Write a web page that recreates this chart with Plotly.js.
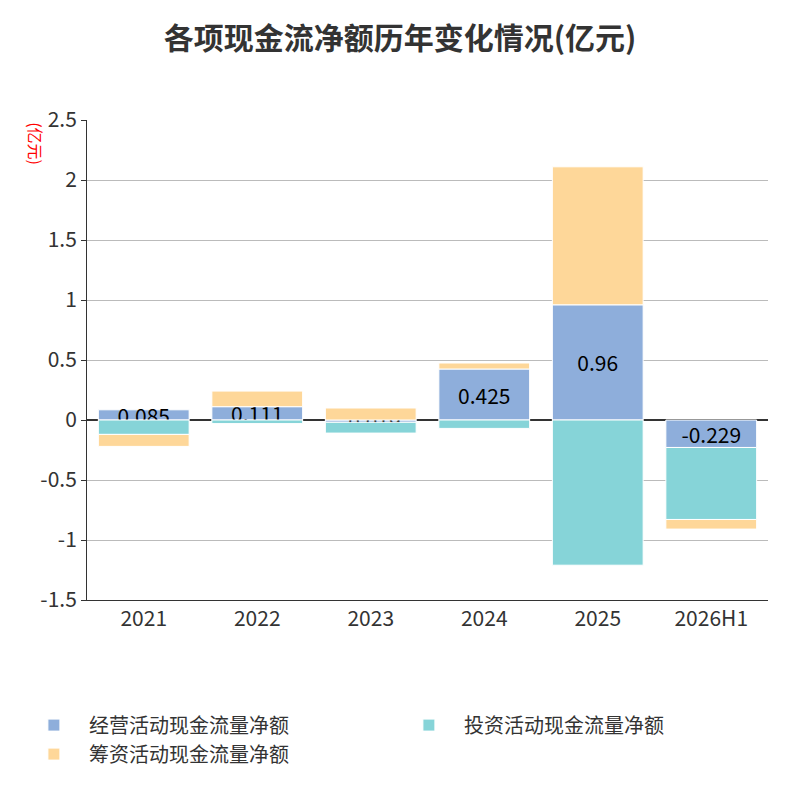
<html><head><meta charset="utf-8"><script src="https://cdn.plot.ly/plotly-3.0.1.min.js"></script></head><body style="margin:0"><div id="c" style="width:800px;height:800px"></div><script>
const categories=['2021','2022','2023','2024','2025','2026H1'];
const operating=[0.085,0.111,-0.019,0.425,0.96,-0.229];
const investing=[-0.12,-0.03,-0.09,-0.07,-1.21,-0.60];
const financing=[-0.10,0.13,0.10,0.05,1.15,-0.08];
const yTicks=[-1.5,-1,-0.5,0,0.5,1,1.5,2,2.5];
const font='"Noto Sans CJK SC", sans-serif';
const tr=(name,y,color,text)=>({type:'bar',name,x:categories,y,marker:{color,line:{color:'#fff',width:1}},width:0.8,
 text:text?y.map(String):undefined,textposition:'inside',insidetextanchor:'middle',textfont:{size:21,color:'#000'},hoverinfo:'y',cliponaxis:false,constraintext:'none'});
Plotly.newPlot('c',[tr('经营活动现金流量净额',operating,'#8eaedb',true),tr('投资活动现金流量净额',investing,'#86d4d8'),tr('筹资活动现金流量净额',financing,'#fed799')],{
 width:800,height:800,barmode:'relative',font:{family:font,color:'#333'},
 title:{text:'<b>各项现金流净额历年变化情况(亿元)</b>',x:0.5,y:0.965,font:{size:30,color:'#333'}},
 margin:{l:87,r:32,t:120,b:200},plot_bgcolor:'#fff',
 xaxis:{type:'category',tickfont:{size:21},showline:true,linecolor:'#333',ticks:'outside',ticklen:0,anchor:'y'},
 yaxis:{range:[-1.5,2.5],tickvals:yTicks,ticktext:yTicks.map(String),tickfont:{size:21},gridcolor:'#bbb',showline:true,linecolor:'#333',ticks:'outside',tickcolor:'#333',zeroline:true,zerolinecolor:'#333',zerolinewidth:2},
 legend:{orientation:'h',x:-0.1,y:-0.22,font:{size:20},entrywidth:300,itemwidth:60},
 annotations:[{text:'(亿元)',textangle:90,x:-0.095,y:1.0,xref:'paper',yref:'paper',showarrow:false,font:{size:16,color:'red'},yanchor:'top'},
 {text:'制图数据来自恒生聚源数据库',x:0.5,y:-0.55,xref:'paper',yref:'paper',showarrow:false,font:{size:15,color:'#c8952a'}}]
},{displayModeBar:false});
</script></body></html>
